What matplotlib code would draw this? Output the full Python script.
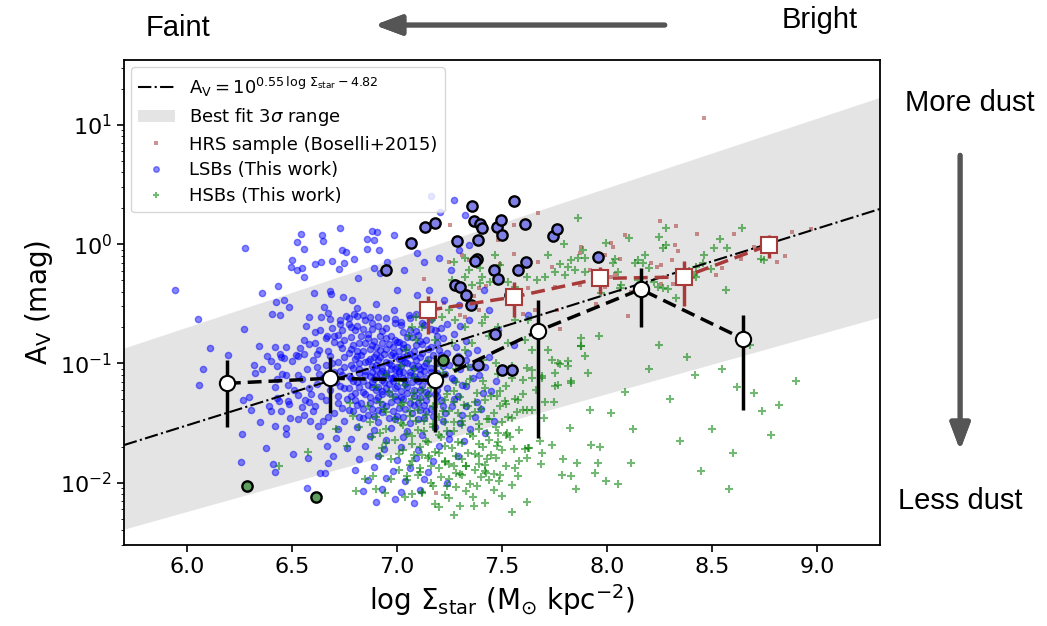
import numpy as np
import matplotlib.pyplot as plt
from matplotlib.lines import Line2D
from matplotlib.patches import Patch

# best fit  A_V = 10^(a * logSigma + b), and the 3 sigma edges
fit_coef = (0.55, -4.82)
band_hi_coef = (0.584, -4.20)
band_lo_coef = (0.494, -5.206)

# HRS sample (Boselli+2015): (log Sigma_star, log A_V)
hrs_points = [
    (8.463, 1.058), (8.254, 0.192), (8.328, 0.156), (8.087, 0.078), (8.427, 0.089), (8.605, 0.089),
    (8.973, 0.128), (8.017, 0.011), (8.028, -0.022), (7.989, -0.092), (8.326, -0.011), (8.336, -0.056),
    (8.309, -0.134), (8.06, -0.128), (8.21, -0.161), (8.257, -0.173), (8.238, -0.19), (8.637, -0.128),
    (8.04, -0.25), (8.02, -0.273), (8.257, -0.334), (8.313, -0.334), (8.194, -0.37), (8.115, -0.398),
    (7.989, -0.357), (7.673, 0.265), (7.555, 0.159), (7.875, -0.028), (7.87, -0.078), (7.483, 0.033),
    (7.559, -0.084), (7.345, -0.134), (7.31, -0.092), (7.491, -0.167), (7.673, -0.148), (7.736, -0.195),
    (7.128, -0.292), (7.246, -0.148), (7.423, -0.351), (7.389, -0.37), (7.365, -0.434), (7.626, -0.37),
    (7.752, -0.357), (7.87, -0.343), (7.223, -0.495), (7.302, -0.593), (7.389, -0.551), (7.602, -0.585),
    (7.657, -0.551), (7.76, -0.551), (7.776, -0.713), (7.196, -0.724), (7.325, -0.607), (7.254, 0.159),
    (7.186, -2.083), (8.70, -0.02), (8.78, 0.05), (8.85, -0.10), (8.55, -0.20), (8.88, 0.10),
    (8.52, -0.26), (8.81, -0.15), (7.92, -0.22), (7.95, -0.50), (8.10, -0.60),
]

# LSBs (this work)
lsb_points = [
    (6.728, 0.136), (6.544, 0.081), (6.645, 0.075), (6.646, 0.028), (6.526, 0.019), (6.555, -0.044),
    (6.275, -0.031), (6.883, 0.109), (6.907, 0.098), (6.855, 0.042), (6.891, 0.031), (6.859, -0.044),
    (6.736, -0.05), (6.757, -0.064), (6.5, -0.134), (6.638, -0.148), (6.689, -0.142), (6.61, -0.167),
    (6.747, -0.156), (6.796, -0.128), (6.494, -0.19), (6.526, -0.217), (6.55, -0.198), (6.725, -0.211),
    (6.559, -0.273), (6.815, -0.281), (6.891, -0.203), (6.918, -0.24), (5.943, -0.384), (6.433, -0.351),
    (6.359, -0.412), (6.607, -0.412), (6.681, -0.39), (6.684, -0.42), (6.741, -0.44), (6.785, -0.468),
    (6.46, -0.468), (6.425, -0.487), (6.487, -0.526), (6.654, -0.529), (6.67, -0.574), (6.81, -0.537),
    (6.902, -0.504), (6.406, -0.587), (6.441, -0.593), (6.583, -0.612), (6.052, -0.629), (6.27, -0.713),
    (6.567, -0.69), (6.634, -0.718), (6.757, -0.599), (6.796, -0.585), (6.731, -0.671), (6.783, -0.699),
    (6.839, -0.593), (6.87, -0.607), (6.112, -0.871), (6.341, -0.852), (6.417, -0.863), (6.471, -0.863),
    (6.556, -0.802), (6.608, -0.83), (6.665, -0.774), (6.194, -0.927), (6.381, -0.941), (6.449, -0.947),
    (6.531, -0.936), (6.555, -0.919), (6.318, -1.011), (6.077, -1.044), (6.058, -1.184), (6.444, -0.919),
    (6.46, -0.955), (6.357, -1.047), (6.326, -1.08), (6.452, -1.089), (6.471, -1.095), (6.417, -1.2),
    (6.428, -1.29), (6.436, -1.312), (6.267, -1.303), (6.294, -1.284), (6.307, -1.387), (6.39, -1.359),
    (6.401, -1.401), (6.487, -1.337), (6.48, -1.312), (6.528, -1.267), (6.563, -1.309), (6.547, -1.365),
    (6.555, -1.437), (6.531, -1.47), (6.586, -1.485), (6.649, -1.485), (6.622, -1.526), (6.349, -1.493),
    (6.42, -1.526), (6.471, -1.54), (6.472, -1.596), (6.262, -1.59), (6.376, -1.707), (6.507, -1.763),
    (6.257, -1.824), (6.412, -1.84), (6.42, -1.91), (6.57, -2.049), (6.578, -1.79), (6.634, -1.61),
    (6.712, -1.623), (6.665, -1.693), (6.697, -1.777), (6.673, -1.832), (6.657, -1.916), (6.634, -1.921),
    (7.161, 0.401), (7.204, 0.267), (7.27, 0.368), (7.322, 0.242), (7.095, -0.075), (7.128, -0.15),
    (7.199, -0.117), (7.256, -0.217), (7.294, -0.05), (7.033, -0.217), (7.0, -0.384), (7.095, -0.426),
    (7.152, -0.384), (7.223, -0.468), (7.294, -0.51), (6.986, -0.551), (7.057, -0.593), (6.986, 0.075),
    (6.915, -0.05), (6.953, -0.15), (7.341, -0.008), (7.389, -0.134), (7.412, -0.384), (7.341, -0.635),
    (7.436, -0.551), (7.483, -0.718), (7.555, -0.844), (7.626, -0.593),
    (6.43, -1.02), (6.50, -0.98), (6.53, -1.10), (6.48, -1.18), (6.58, -1.21), (6.62, -1.03), (6.64, -1.27),
    (6.51, -1.22), (6.45, -1.40), (6.60, -1.40), (6.54, -0.87), (6.62, -0.92), (6.40, -0.98), (6.65, -1.12),
    (6.58, -1.32), (6.49, -1.46), (6.67, -1.45), (6.43, -1.13),
    (7.22, -1.02), (7.26, -1.12), (7.31, -1.18), (7.35, -1.03), (7.39, -1.10), (7.27, -1.30), (7.33, -1.36),
    (7.41, -1.25), (7.23, -1.42), (7.30, -1.50), (7.37, -1.45), (7.25, -1.58), (7.32, -1.65), (7.42, -1.58),
    (7.21, -0.93), (7.34, -0.91), (7.44, -0.95), (7.47, -1.15), (7.28, -0.97), (7.19, -1.27), (7.17, -1.44),
    (7.22, -1.36), (7.14, -1.31), (7.40, -1.38), (7.46, -1.48),
    (6.64, -0.61), (6.73, -0.64), (6.81, -0.60), (6.88, -0.66), (6.95, -0.62), (7.02, -0.65), (7.09, -0.59),
    (7.16, -0.63), (7.24, -0.67), (6.69, -0.70), (6.77, -0.67), (6.84, -0.71), (6.91, -0.69), (6.99, -0.66),
    (7.06, -0.72), (7.13, -0.68), (7.21, -0.70), (7.30, -0.69), (6.61, -0.74), (6.72, -0.76), (6.80, -0.72),
    (6.86, -0.75), (6.93, -0.73), (6.97, -0.77), (7.03, -0.74), (7.10, -0.76), (7.18, -0.72), (7.27, -0.75),
    (6.66, -0.79), (6.75, -0.80), (6.83, -0.77), (6.89, -0.81), (6.95, -0.79), (7.01, -0.82), (7.07, -0.78),
    (7.14, -0.80), (7.22, -0.79), (7.33, -0.81), (6.58, -0.84), (6.70, -0.82), (6.79, -0.85), (6.85, -0.83),
    (6.90, -0.86), (6.96, -0.84), (7.00, -0.82), (7.05, -0.86), (7.12, -0.84), (7.19, -0.83), (7.28, -0.86),
    (6.63, -0.89), (6.74, -0.87), (6.81, -0.90), (6.87, -0.88), (6.92, -0.89), (6.98, -0.91), (7.03, -0.87),
    (7.08, -0.90), (7.15, -0.88), (7.24, -0.91), (7.38, -0.89), (6.52, -0.93), (6.68, -0.94), (6.77, -0.91),
    (6.83, -0.93), (6.89, -0.95), (6.94, -0.92), (6.99, -0.94), (7.02, -0.96), (7.06, -0.92), (7.11, -0.95),
    (7.17, -0.93), (7.29, -0.94), (6.60, -0.97), (6.72, -0.99), (6.80, -0.96), (6.86, -0.98), (6.91, -0.97),
    (6.96, -1.00), (7.01, -0.96), (7.04, -0.99), (7.09, -0.97), (7.14, -1.00), (7.21, -0.98), (7.33, -0.97),
    (6.66, -1.01), (6.75, -1.03), (6.82, -1.00), (6.88, -1.02), (6.93, -1.04), (6.97, -1.01), (7.00, -1.03),
    (7.05, -1.00), (7.10, -1.02), (7.16, -1.04), (7.25, -1.01), (7.42, -1.03), (6.57, -1.05), (6.70, -1.07),
    (6.79, -1.04), (6.85, -1.06), (6.90, -1.05), (6.95, -1.08), (6.99, -1.05), (7.03, -1.07), (7.08, -1.04),
    (7.13, -1.06), (7.19, -1.08), (7.30, -1.05), (6.63, -1.09), (6.74, -1.10), (6.82, -1.08), (6.87, -1.11),
    (6.92, -1.09), (6.97, -1.12), (7.01, -1.08), (7.06, -1.10), (7.11, -1.09), (7.17, -1.11), (7.23, -1.09),
    (7.36, -1.12), (6.55, -1.13), (6.69, -1.14), (6.78, -1.12), (6.84, -1.15), (6.89, -1.13), (6.94, -1.16),
    (6.98, -1.12), (7.04, -1.14), (7.09, -1.13), (7.15, -1.15), (7.27, -1.14), (6.62, -1.17), (6.73, -1.19),
    (6.81, -1.16), (6.86, -1.18), (6.91, -1.20), (6.96, -1.17), (7.00, -1.19), (7.07, -1.16), (7.12, -1.18),
    (7.20, -1.17), (7.33, -1.19), (6.68, -1.22), (6.77, -1.21), (6.84, -1.24), (6.90, -1.22), (6.95, -1.21),
    (7.02, -1.23), (7.08, -1.22), (7.14, -1.24), (7.24, -1.21), (7.45, -1.23), (6.59, -1.26), (6.72, -1.27),
    (6.80, -1.25), (6.87, -1.28), (6.93, -1.26), (6.99, -1.27), (7.05, -1.25), (7.11, -1.28), (7.18, -1.26),
    (7.29, -1.27), (6.66, -1.31), (6.76, -1.30), (6.83, -1.33), (6.90, -1.31), (6.97, -1.32), (7.03, -1.30),
    (7.10, -1.33), (7.21, -1.31), (7.38, -1.32), (6.61, -1.36), (6.74, -1.37), (6.81, -1.35), (6.88, -1.38),
    (6.95, -1.36), (7.01, -1.37), (7.08, -1.35), (7.16, -1.38), (7.26, -1.36), (6.70, -1.42), (6.79, -1.40),
    (6.86, -1.43), (6.93, -1.41), (7.00, -1.44), (7.07, -1.42), (7.14, -1.40), (7.31, -1.43), (6.75, -1.48),
    (6.84, -1.46), (6.91, -1.49), (6.99, -1.47), (7.06, -1.50), (7.13, -1.46), (7.22, -1.48), (6.72, -1.55),
    (6.81, -1.53), (6.89, -1.56), (6.97, -1.54), (7.05, -1.57), (7.18, -1.53), (7.35, -1.55), (6.78, -1.63),
    (6.87, -1.61), (6.95, -1.64), (7.03, -1.62), (7.12, -1.60), (7.25, -1.63), (6.76, -1.71), (6.85, -1.69),
    (6.94, -1.72), (7.02, -1.70), (7.10, -1.73), (7.20, -1.69), (6.82, -1.80), (6.91, -1.78), (7.00, -1.81),
    (7.09, -1.79), (7.17, -1.82), (7.29, -1.78), (6.80, -1.89), (6.89, -1.87), (6.98, -1.90), (7.06, -1.88),
    (7.15, -1.91), (6.86, -1.98), (6.95, -1.96), (7.04, -1.99), (7.13, -1.97), (7.24, -2.00), (6.84, -2.07),
    (6.93, -2.05), (7.02, -2.08), (7.11, -2.06), (6.90, -2.16), (6.99, -2.14), (7.08, -2.17),
    (6.68, -0.63), (6.77, -0.62), (6.85, -0.64), (6.91, -0.61), (6.99, -0.63), (7.06, -0.62), (7.12, -0.66),
    (6.74, -0.72), (6.81, -0.69), (6.88, -0.71), (6.95, -0.70), (7.02, -0.68), (7.09, -0.73), (7.16, -0.71),
    (6.70, -0.77), (6.78, -0.78), (6.86, -0.79), (6.92, -0.77), (6.99, -0.80), (7.05, -0.78), (7.11, -0.81),
    (7.19, -0.77), (6.73, -0.84), (6.82, -0.83), (6.88, -0.85), (6.93, -0.83), (6.98, -0.86), (7.03, -0.84),
    (7.09, -0.85), (7.16, -0.86), (6.67, -0.90), (6.78, -0.88), (6.84, -0.90), (6.90, -0.92), (6.95, -0.88),
    (7.01, -0.90), (7.05, -0.93), (7.12, -0.91), (7.20, -0.89), (6.75, -0.95), (6.81, -0.94), (6.87, -0.96),
    (6.92, -0.95), (6.97, -0.93), (7.03, -0.95), (7.08, -0.94), (7.15, -0.96), (6.69, -1.00), (6.78, -1.01),
    (6.85, -0.99), (6.90, -1.01), (6.95, -0.99), (7.02, -1.02), (7.07, -1.01), (7.13, -1.02), (7.19, -1.00),
    (6.73, -1.06), (6.82, -1.05), (6.88, -1.07), (6.93, -1.06), (6.97, -1.05), (7.01, -1.06), (7.06, -1.07),
    (7.11, -1.05), (7.16, -1.07), (6.77, -1.11), (6.85, -1.10), (6.90, -1.11), (6.95, -1.10), (6.99, -1.11),
    (7.03, -1.12), (7.08, -1.11), (7.14, -1.12), (6.71, -1.16), (6.79, -1.15), (6.88, -1.16), (6.93, -1.14),
    (6.98, -1.15), (7.04, -1.17), (7.10, -1.15), (7.17, -1.16), (6.75, -1.21), (6.82, -1.20), (6.88, -1.20),
    (6.93, -1.23), (6.99, -1.21), (7.05, -1.20), (7.11, -1.22), (7.19, -1.22), (6.78, -1.27), (6.85, -1.26),
    (6.91, -1.28), (6.96, -1.25), (7.02, -1.28), (7.08, -1.27), (7.15, -1.26), (6.72, -1.33), (6.80, -1.31),
    (6.87, -1.33), (6.93, -1.34), (7.00, -1.31), (7.06, -1.33), (7.13, -1.35), (6.77, -1.39), (6.84, -1.38),
    (6.91, -1.39), (6.98, -1.40), (7.04, -1.38), (7.11, -1.39), (6.82, -1.45), (6.89, -1.44), (6.96, -1.46),
    (7.03, -1.45), (7.10, -1.47),
]

# HSBs (this work)
hsb_points = [
    (7.02, -1.02), (7.15, -0.98), (7.28, -1.05), (7.41, -0.97), (7.55, -1.02), (6.95, -1.10), (7.08, -1.12),
    (7.22, -1.08), (7.35, -1.13), (7.48, -1.09), (7.60, -1.14), (6.90, -1.20), (7.04, -1.18), (7.12, -1.22),
    (7.19, -1.19), (7.27, -1.23), (7.33, -1.17), (7.42, -1.21), (7.52, -1.19), (7.66, -1.22), (6.98, -1.28),
    (7.07, -1.30), (7.15, -1.27), (7.23, -1.31), (7.30, -1.28), (7.37, -1.32), (7.45, -1.27), (7.56, -1.30),
    (6.86, -1.36), (6.94, -1.38), (7.02, -1.35), (7.10, -1.39), (7.17, -1.36), (7.25, -1.40), (7.32, -1.35),
    (7.40, -1.38), (7.49, -1.36), (7.62, -1.39), (6.90, -1.45), (6.99, -1.47), (7.06, -1.44), (7.13, -1.48),
    (7.20, -1.45), (7.27, -1.49), (7.35, -1.44), (7.43, -1.47), (7.53, -1.45), (7.70, -1.46), (6.82, -1.53),
    (6.95, -1.55), (7.03, -1.52), (7.10, -1.56), (7.17, -1.53), (7.24, -1.57), (7.31, -1.52), (7.39, -1.55),
    (7.47, -1.53), (7.58, -1.56), (6.88, -1.62), (6.99, -1.64), (7.07, -1.61), (7.14, -1.65), (7.21, -1.62),
    (7.29, -1.66), (7.36, -1.61), (7.44, -1.64), (7.54, -1.62), (7.68, -1.65), (6.93, -1.71), (7.03, -1.73),
    (7.11, -1.70), (7.18, -1.74), (7.26, -1.71), (7.34, -1.75), (7.41, -1.70), (7.50, -1.73), (7.63, -1.71),
    (6.97, -1.80), (7.07, -1.82), (7.15, -1.79), (7.23, -1.83), (7.31, -1.80), (7.39, -1.84), (7.47, -1.79),
    (7.58, -1.82), (7.01, -1.89), (7.11, -1.91), (7.20, -1.88), (7.28, -1.92), (7.37, -1.89), (7.46, -1.93),
    (7.56, -1.88), (7.05, -1.98), (7.16, -2.00), (7.25, -1.97), (7.35, -2.01), (7.44, -1.98), (7.55, -2.02),
    (7.12, -2.08), (7.23, -2.10), (7.33, -2.07), (7.50, -2.11), (7.18, -2.18), (7.30, -2.20), (7.42, -2.17),
    (7.08, -1.05), (7.21, -1.01), (7.34, -1.03), (7.47, -1.00), (7.62, -1.04), (7.01, -1.15), (7.15, -1.14),
    (7.28, -1.16), (7.41, -1.15), (7.55, -1.12), (6.96, -1.24), (7.08, -1.25), (7.16, -1.21), (7.24, -1.26),
    (7.38, -1.25), (7.49, -1.23), (7.60, -1.26), (6.92, -1.32), (7.03, -1.33), (7.11, -1.31), (7.19, -1.34),
    (7.27, -1.32), (7.34, -1.36), (7.42, -1.31), (7.52, -1.34), (6.95, -1.41), (7.06, -1.40), (7.14, -1.43),
    (7.22, -1.40), (7.29, -1.42), (7.37, -1.41), (7.46, -1.42), (7.57, -1.41), (6.87, -1.49), (7.02, -1.50),
    (7.09, -1.48), (7.17, -1.51), (7.23, -1.49), (7.31, -1.48), (7.39, -1.51), (7.50, -1.49), (6.92, -1.58),
    (7.05, -1.59), (7.13, -1.57), (7.20, -1.60), (7.27, -1.57), (7.35, -1.59), (7.43, -1.58), (7.52, -1.60),
    (6.95, -1.67), (7.07, -1.68), (7.15, -1.66), (7.23, -1.69), (7.31, -1.67), (7.39, -1.68), (7.48, -1.66),
    (7.01, -1.76), (7.12, -1.77), (7.20, -1.75), (7.28, -1.78), (7.37, -1.76), (7.45, -1.77), (7.06, -1.85),
    (7.16, -1.86), (7.25, -1.84), (7.33, -1.86), (7.42, -1.85), (7.52, -1.86), (7.10, -1.94), (7.21, -1.95),
    (7.30, -1.93), (7.40, -1.95), (7.49, -1.94), (7.17, -2.03), (7.28, -2.04), (7.38, -2.03), (7.46, -2.06),
    (7.25, -2.13), (7.36, -2.12), (7.55, -2.25), (7.27, -2.27),
    (7.875, -0.791), (7.878, -0.852), (7.962, -0.769), (7.736, -0.975), (7.776, -1.005), (7.812, -0.983),
    (7.831, -1.15), (7.768, -1.178), (7.642, -1.122), (7.689, -1.122), (8.084, -1.242), (7.705, -1.326),
    (7.749, -1.326), (7.919, -1.393), (8.017, -1.42), (7.823, -1.543), (8.123, -1.548), (7.926, -1.688),
    (7.965, -1.698), (7.739, -1.688), (7.623, -1.707), (7.689, -1.749), (7.859, -1.838), (7.957, -1.838),
    (8.112, -1.838), (7.686, -1.846), (7.791, -1.805), (7.618, -1.79), (7.578, -1.944), (7.787, -1.938),
    (7.831, -1.944), (7.941, -1.922), (7.995, -1.986), (8.052, -2.013), (7.854, -2.05), (7.618, -2.166),
    (7.365, -2.195), (7.487, -1.986), (7.423, -1.916), (7.31, -1.938), (7.238, -2.028), (7.117, -2.083),
    (7.038, -2.124), (6.943, -2.083), (7.073, -2.097), (7.199, -2.208), (7.475, -1.276), (7.515, -1.317),
    (7.578, -1.303), (7.602, -1.387), (7.645, -1.387), (7.547, -1.456), (7.436, -1.47), (7.483, -1.581),
    (7.523, -1.581), (7.555, -1.721), (7.61, -1.721), (7.475, -1.693), (7.428, -1.805), (7.389, -1.777),
    (7.329, -1.86), (7.42, -1.902), (7.27, -1.86), (7.231, -1.819), (7.152, -1.777), (7.081, -1.771),
    (7.049, -1.944), (6.97, -1.972), (7.112, -1.874),
    (7.863, 0.215), (7.795, 0.0), (7.886, -0.05), (7.894, -0.12), (7.863, -0.12), (7.831, -0.134),
    (7.815, -0.19), (7.8, -0.259), (7.752, -0.231), (7.705, -0.273), (7.665, -0.301), (7.618, -0.273),
    (7.563, -0.357), (7.531, -0.315), (7.483, -0.287), (7.444, -0.315), (7.404, -0.273), (7.397, -0.329),
    (7.357, -0.343), (7.341, -0.217), (7.325, -0.273), (7.262, -0.301), (7.27, -0.148), (7.325, -0.12),
    (7.397, -0.203), (7.468, -0.092), (7.491, -0.175), (7.72, -0.092), (7.776, -0.167), (7.847, -0.217),
    (7.894, -0.231), (7.626, -0.635), (7.563, -0.635), (7.483, -0.691), (7.42, -0.607), (7.404, -0.663),
    (7.325, -0.691), (7.278, -0.635), (7.246, -0.551), (7.215, -0.607), (7.167, -0.635), (7.12, -0.691),
    (7.089, -0.607), (7.073, -0.691), (7.057, -0.774), (7.041, -0.886), (7.089, -0.802), (7.183, -0.802),
    (7.262, -0.83), (7.325, -0.886), (7.357, -0.83), (7.436, -0.774), (7.531, -0.83), (7.61, -0.802),
    (7.641, -0.886), (7.72, -0.886), (7.768, -0.997), (7.641, -1.053), (7.689, -1.109), (7.752, -1.192),
    (7.815, -1.025), (7.878, -0.858), (7.894, -0.942), (7.91, -1.08), (7.831, -1.164), (7.752, -1.08),
    (8.281, 0.131), (8.25, 0.056), (8.645, 0.131), (8.539, 0.039), (8.51, -0.036), (8.573, -0.036),
    (8.281, -0.008), (8.265, -0.036), (8.107, 0.048), (8.179, -0.092), (8.171, -0.156), (8.131, -0.161),
    (8.147, -0.134), (8.036, -0.128), (8.028, -0.161), (7.997, 0.006), (8.463, -0.092), (8.455, -0.161),
    (8.494, -0.211), (8.423, -0.19), (8.731, -0.128), (8.747, -0.134), (8.565, -0.384), (8.242, -0.357),
    (8.265, -0.37), (8.289, -0.379), (8.226, -0.315), (8.202, -0.203), (8.147, -0.301), (8.068, -0.343),
    (8.06, -0.37), (8.052, -0.231), (7.981, -0.245), (7.973, -0.412), (8.328, -0.454), (8.423, -0.273),
    (8.415, -0.259),
    (6.578, -1.743), (6.436, -1.86), (6.712, -1.554), (6.847, -1.972), (6.807, -2.07), (6.902, -2.055),
    (6.886, -1.944), (6.76, -1.693), (6.791, -1.443), (6.776, -1.331), (6.918, -1.777),
    (8.25, -0.85), (8.38, -0.95), (8.42, -1.10), (8.55, -1.05), (8.62, -1.20), (8.70, -1.25), (8.74, -1.40),
    (8.78, -1.60), (8.50, -1.55), (8.35, -1.65), (8.60, -1.75), (8.58, -2.05), (8.82, -1.35), (8.90, -1.15),
    (8.68, -0.85), (8.30, -1.30), (8.20, -1.05), (8.45, -1.90),
]

# objects highlighted with a black ring
ring_blue = [
    (6.948, -0.217), (7.066, 0.008), (7.133, 0.145), (7.18, 0.173), (7.286, 0.028), (7.357, 0.317),
    (7.365, 0.192), (7.393, 0.167), (7.404, 0.136), (7.384, 0.033), (7.475, 0.145), (7.496, 0.2),
    (7.502, 0.073), (7.559, 0.362), (7.61, 0.165), (7.741, 0.067), (7.762, 0.123), (7.382, -0.128),
    (7.37, -0.142), (7.464, -0.217), (7.578, -0.217), (7.615, -0.148), (7.48, -0.295), (7.278, -0.343),
    (7.299, -0.357), (7.33, -0.426), (7.351, -0.507), (7.468, -0.754), (7.29, -0.969), (7.384, -1.011),
    (7.499, -1.053), (7.55, -1.053), (7.957, -0.109),
]
ring_green = [(6.286, -2.028), (6.613, -2.119), (7.219, -0.969)]
ring_white = [(7.539, -0.426)]

# binned medians (all galaxies) with 16-84% range
med_x = [6.19, 6.68, 7.18, 7.67, 8.16, 8.65]
med_av = [0.068, 0.075, 0.072, 0.186, 0.418, 0.16]
med_lo = [0.0295, 0.038, 0.0268, 0.0236, 0.20, 0.041]
med_hi = [0.107, 0.114, 0.117, 0.34, 0.625, 0.254]

# binned medians of the HRS sample
hrs_med_x = [7.15, 7.555, 7.965, 8.365, 8.77]
hrs_med_av = [0.279, 0.36, 0.516, 0.53, 0.98]
hrs_med_lo = [0.178, 0.245, 0.385, 0.30, 0.76]
hrs_med_hi = [0.37, 0.48, 0.64, 0.716, 1.19]

RED = '#a83a3a'


def unpack(points):
    arr = np.array(points)
    return arr[:, 0], 10 ** arr[:, 1]


def main():
    fig = plt.figure(figsize=(10.47, 6.26), dpi=100)
    ax = fig.add_axes([0.1184, 0.1294, 0.7221, 0.7748])

    xlim = (5.7, 9.3)
    xx = np.linspace(xlim[0], xlim[1], 100)
    ax.fill_between(xx, 10 ** (band_lo_coef[0] * xx + band_lo_coef[1]),
                    10 ** (band_hi_coef[0] * xx + band_hi_coef[1]),
                    color='lightgray', alpha=0.6, lw=0, zorder=0)
    ax.plot(xx, 10 ** (fit_coef[0] * xx + fit_coef[1]), color='k', ls='-.', lw=1.5, zorder=4)

    x, y = unpack(hrs_points)
    ax.scatter(x, y, marker='s', s=10, color=RED, alpha=0.55, lw=0, zorder=2)
    x, y = unpack(lsb_points)
    ax.scatter(x, y, marker='o', s=20, color='blue', alpha=0.47, lw=1, zorder=2)
    x, y = unpack(hsb_points)
    ax.scatter(x, y, marker='+', s=38, color='green', alpha=0.55, lw=1.5, zorder=2)

    x, y = unpack(ring_blue)
    ax.scatter(x, y, marker='o', s=55, facecolor='#7f7fe8', edgecolor='k', lw=1.7, zorder=3)
    x, y = unpack(ring_green)
    ax.scatter(x, y, marker='o', s=55, facecolor='#5e9e5e', edgecolor='k', lw=1.7, zorder=3)
    x, y = unpack(ring_white)
    ax.scatter(x, y, marker='o', s=55, facecolor='white', edgecolor='k', lw=1.7, zorder=3)

    av = np.array(med_av)
    ax.errorbar(med_x, av, yerr=[av - np.array(med_lo), np.array(med_hi) - av],
                fmt='o', ls=(0, (4, 2)), color='k', lw=2.5, elinewidth=2.5,
                mfc='white', mec='k', mew=1.5, ms=11, zorder=6)

    hav = np.array(hrs_med_av)
    ax.errorbar(hrs_med_x, hav, yerr=[hav - np.array(hrs_med_lo), np.array(hrs_med_hi) - hav],
                fmt='s', ls=(0, (4, 2)), color=RED, lw=2.5, elinewidth=2.5,
                mfc='white', mec=RED, mew=1.5, ms=12, zorder=5)

    ax.set_yscale('log')
    ax.set_xlim(*xlim)
    ax.set_ylim(0.003, 35)
    ax.set_xticks([6.0, 6.5, 7.0, 7.5, 8.0, 8.5, 9.0])
    ax.tick_params(labelsize=16, width=1.2)
    ax.tick_params(which='major', length=5)
    for s in ax.spines.values():
        s.set_linewidth(1.3)
    ax.set_xlabel(r'log $\Sigma_{\rm star}$ (M$_{\odot}$ kpc$^{-2}$)', fontsize=20)
    ax.set_ylabel(r'$\mathrm{A_V}$ (mag)', fontsize=20)

    handles = [
        Line2D([], [], color='k', ls='-.', lw=1.5),
        Patch(facecolor='lightgray', alpha=0.6, lw=0),
        Line2D([], [], ls='', marker='s', ms=3, color=RED, alpha=0.55, mew=0),
        Line2D([], [], ls='', marker='o', ms=4, color='blue', alpha=0.45),
        Line2D([], [], ls='', marker='+', ms=5, color='green', alpha=0.55, mew=1.5),
    ]
    labels = [
        r'$\mathrm{A_V} = 10^{0.55\,\log\,\Sigma_{\rm star} - 4.82}$',
        r'Best fit 3$\sigma$ range',
        'HRS sample (Boselli+2015)',
        'LSBs (This work)',
        'HSBs (This work)',
    ]
    ax.legend(handles, labels, loc='upper left', fontsize=13, labelspacing=0.42,
              borderaxespad=0.4, handlelength=2.0)

    # annotations outside the axes
    tf = dict(family='Liberation Sans', fontsize=21, color='k')
    fig.text(0.170, 0.955, 'Faint', ha='center', va='center', **tf)
    fig.text(0.783, 0.968, 'Bright', ha='center', va='center', **tf)
    fig.text(0.926, 0.835, 'More dust', ha='center', va='center', **tf)
    fig.text(0.917, 0.200, 'Less dust', ha='center', va='center', **tf)
    arrow = dict(arrowstyle='-|>,head_length=0.8,head_width=0.3', color='#555555', lw=3.5,
                 mutation_scale=20, shrinkA=0, shrinkB=0)
    fig.add_artist(plt.annotate('', xy=(0.358, 0.960), xytext=(0.635, 0.960),
                                xycoords='figure fraction', textcoords='figure fraction',
                                arrowprops=arrow))
    fig.add_artist(plt.annotate('', xy=(0.917, 0.281), xytext=(0.917, 0.752),
                                xycoords='figure fraction', textcoords='figure fraction',
                                arrowprops=arrow))

    fig.savefig('out.png', dpi=100)


if __name__ == "__main__":
    main()
